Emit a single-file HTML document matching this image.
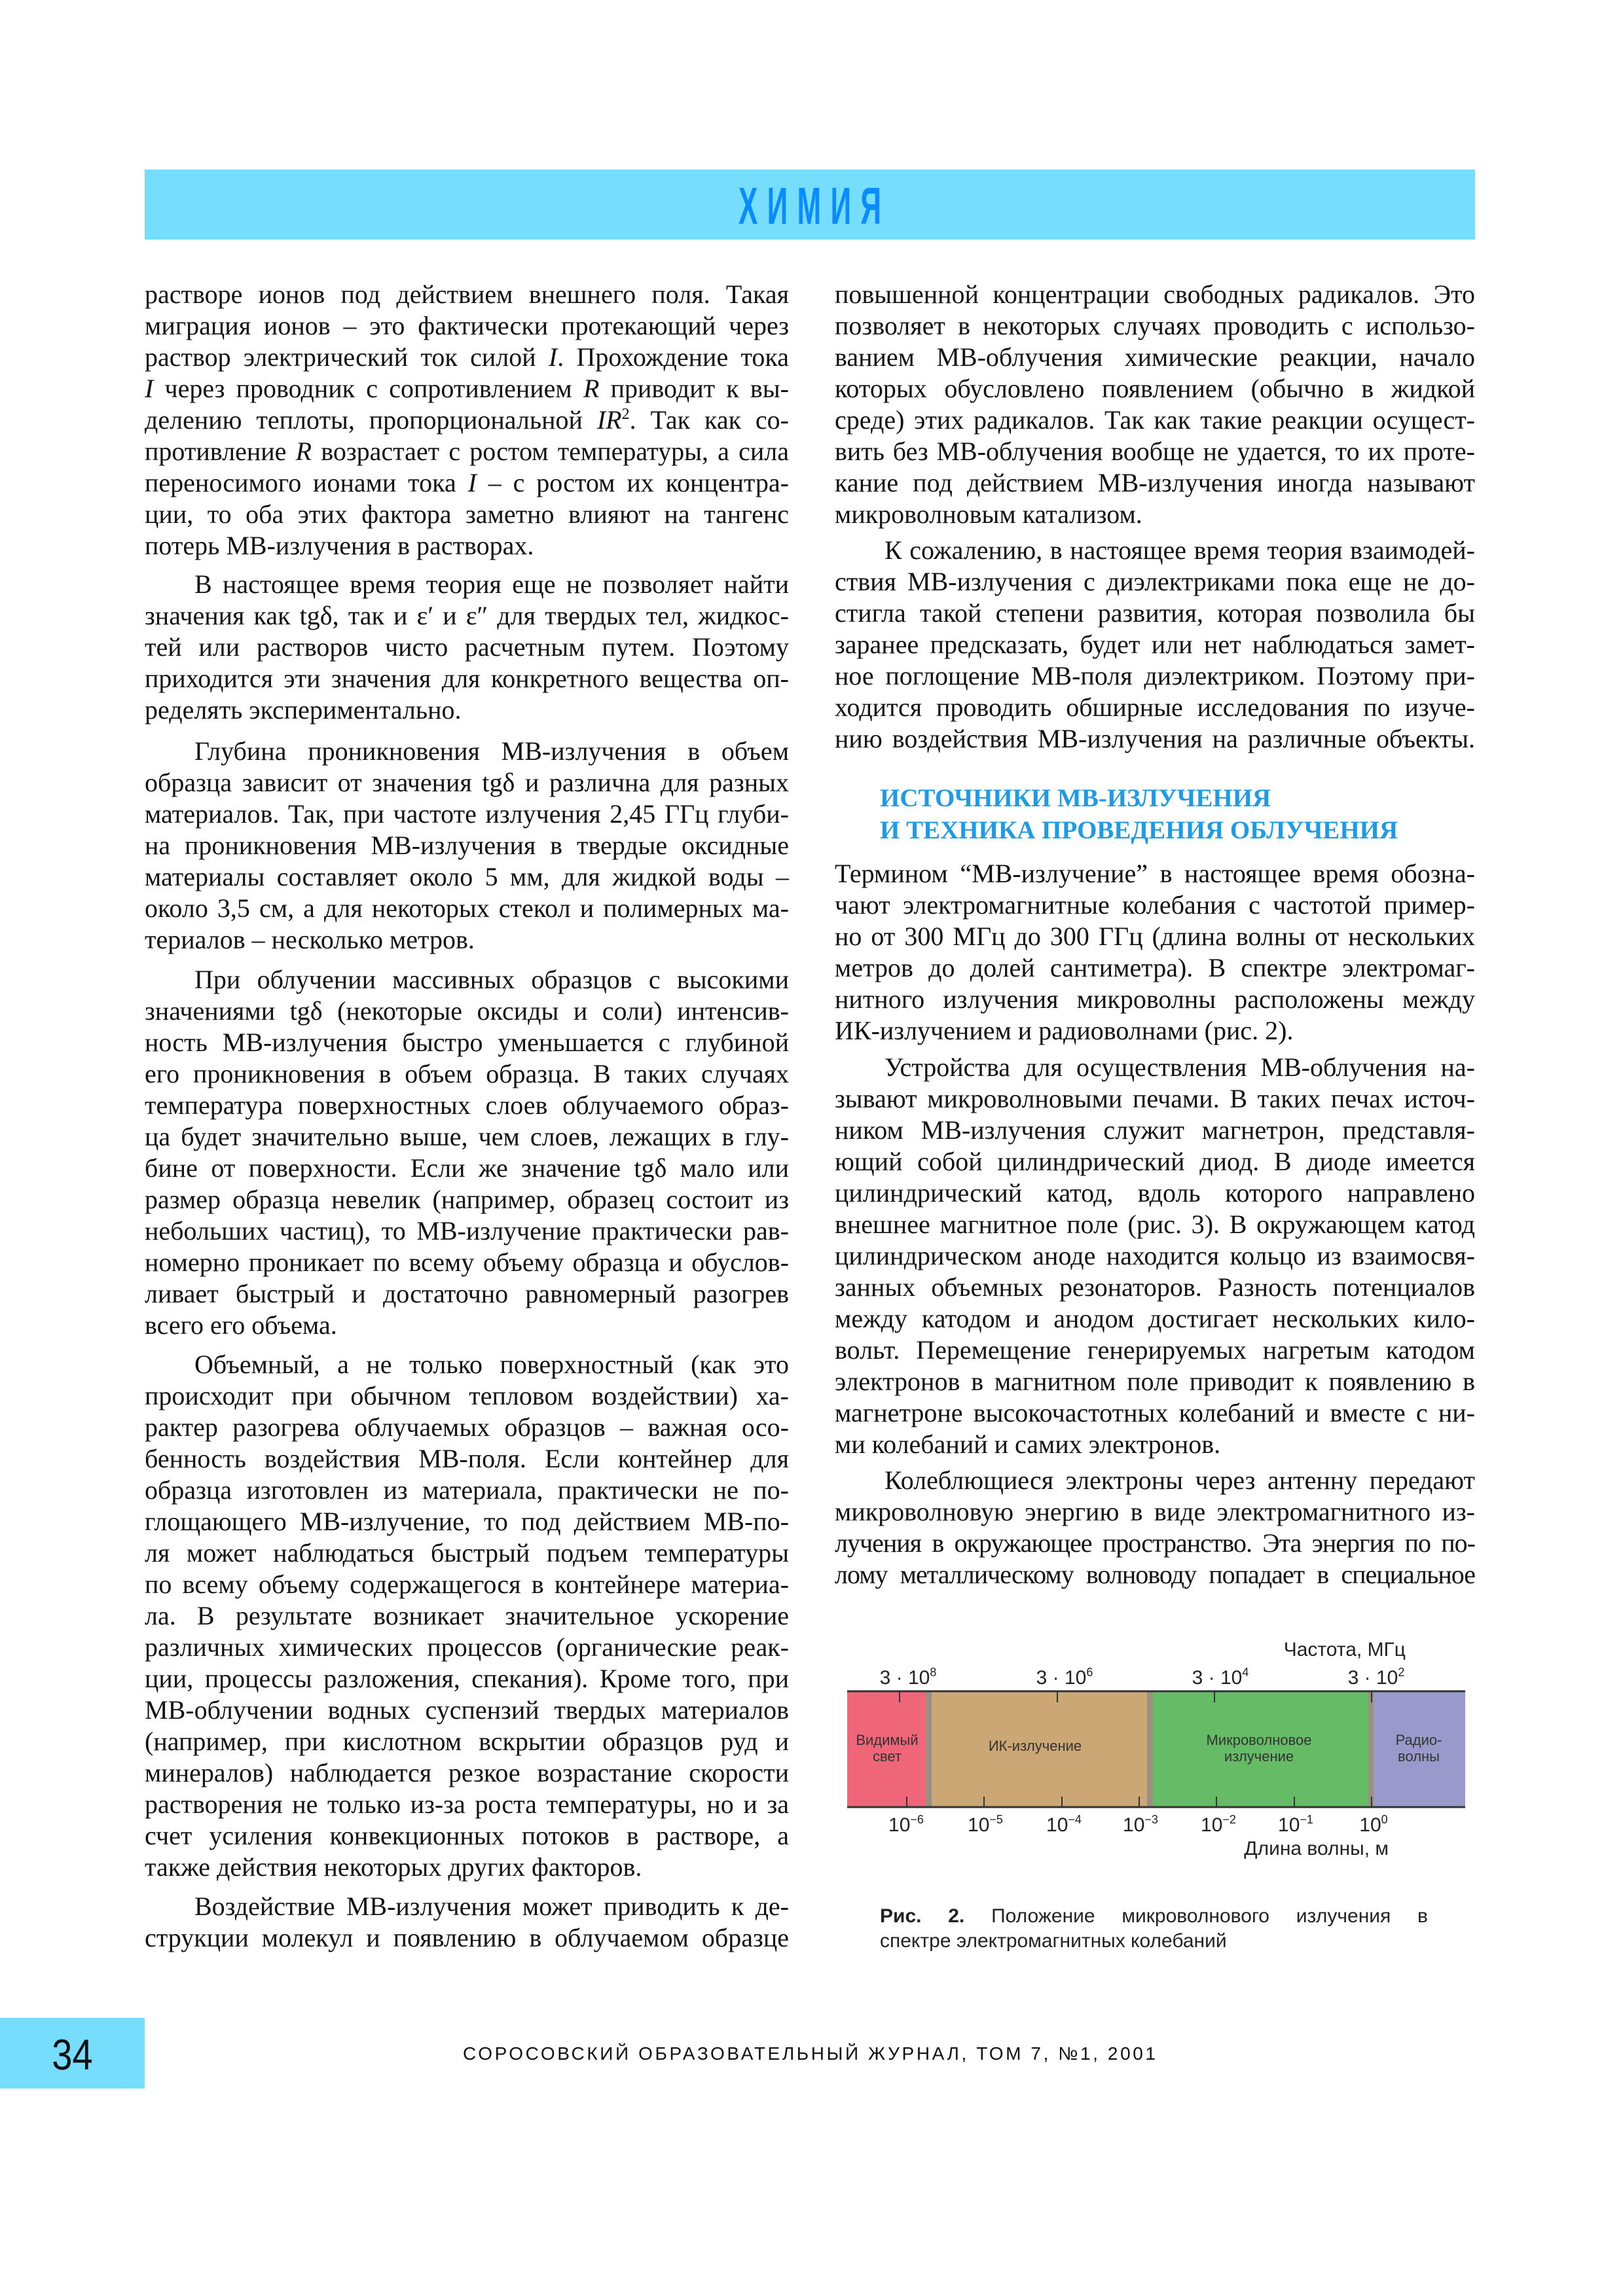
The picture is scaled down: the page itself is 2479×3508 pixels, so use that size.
<!DOCTYPE html>
<html><head><meta charset="utf-8">
<style>
html,body{margin:0;padding:0;background:#fff;}
body{width:2479px;height:3508px;position:relative;overflow:hidden;font-family:"Liberation Serif","DejaVu Serif",serif;color:#111;}
.col{position:absolute;font-size:40px;line-height:48px;}
.L{left:221px;width:984px;}
.R{left:1275px;width:978px;}
.col div{text-align:justify;text-align-last:justify;white-space:normal;height:48px;overflow:visible;}
.col div.e{text-align-last:left;}
.col div.i{padding-left:76px;}
.col div.t{letter-spacing:-1px;}
sup{font-size:24px;line-height:0;vertical-align:15px;}
.band{position:absolute;left:221px;top:259px;width:2032px;height:107px;background:#76ddfd;}
.band span{position:absolute;left:0;right:0;top:10px;text-align:center;font-family:"Liberation Sans",sans-serif;font-weight:bold;color:#0a8cff;font-size:80px;letter-spacing:26px;transform:scaleX(0.55);padding-left:26px;}
.hd{position:absolute;left:1344px;top:1195px;font-size:39px;line-height:49px;font-weight:bold;color:#1e9be6;}
.pg{position:absolute;left:0;top:3083px;width:221px;height:108px;background:#76ddfd;}
.pg span{position:absolute;left:0;width:221px;text-align:center;top:18px;font-family:"Liberation Sans",sans-serif;font-size:66px;transform:scaleX(0.85);}
.ft{position:absolute;left:707px;top:3122px;font-family:"Liberation Sans",sans-serif;font-size:28px;letter-spacing:3.6px;white-space:nowrap;}
.cap{position:absolute;left:1344px;top:2909px;width:837px;font-family:"Liberation Sans",sans-serif;font-size:30px;line-height:38px;color:#222;}
.cap div{text-align:justify;text-align-last:justify;}
.cap div.e{text-align-last:left;}
</style></head><body>

<div class="band"><span>ХИМИЯ</span></div>

<div class="col L" style="top:426px">
<div>растворе ионов под действием внешнего поля. Такая</div>
<div>миграция ионов – это фактически протекающий через</div>
<div>раствор электрический ток силой <i>I</i>. Прохождение тока</div>
<div><i>I</i> через проводник с сопротивлением <i>R</i> приводит к вы-</div>
<div>делению теплоты, пропорциональной <i>IR</i><sup>2</sup>. Так как со-</div>
<div>противление <i>R</i> возрастает с ростом температуры, а сила</div>
<div>переносимого ионами тока <i>I</i> – с ростом их концентра-</div>
<div>ции, то оба этих фактора заметно влияют на тангенс</div>
<div class="e">потерь МВ-излучения в растворах.</div>
</div>

<div class="col L" style="top:869px">
<div class="i">В настоящее время теория еще не позволяет найти</div>
<div>значения как tgδ, так и ε′ и ε″ для твердых тел, жидкос-</div>
<div>тей или растворов чисто расчетным путем. Поэтому</div>
<div>приходится эти значения для конкретного вещества оп-</div>
<div class="e">ределять экспериментально.</div>
</div>

<div class="col L" style="top:1124px">
<div class="i">Глубина проникновения МВ-излучения в объем</div>
<div>образца зависит от значения tgδ и различна для разных</div>
<div>материалов. Так, при частоте излучения 2,45 ГГц глуби-</div>
<div>на проникновения МВ-излучения в твердые оксидные</div>
<div>материалы составляет около 5 мм, для жидкой воды –</div>
<div>около 3,5 см, а для некоторых стекол и полимерных ма-</div>
<div class="e">териалов – несколько метров.</div>
</div>

<div class="col L" style="top:1473px">
<div class="i">При облучении массивных образцов с высокими</div>
<div>значениями tgδ (некоторые оксиды и соли) интенсив-</div>
<div>ность МВ-излучения быстро уменьшается с глубиной</div>
<div>его проникновения в объем образца. В таких случаях</div>
<div>температура поверхностных слоев облучаемого образ-</div>
<div>ца будет значительно выше, чем слоев, лежащих в глу-</div>
<div>бине от поверхности. Если же значение tgδ мало или</div>
<div>размер образца невелик (например, образец состоит из</div>
<div>небольших частиц), то МВ-излучение практически рав-</div>
<div>номерно проникает по всему объему образца и обуслов-</div>
<div>ливает быстрый и достаточно равномерный разогрев</div>
<div class="e">всего его объема.</div>
</div>

<div class="col L" style="top:2061px">
<div class="i">Объемный, а не только поверхностный (как это</div>
<div>происходит при обычном тепловом воздействии) ха-</div>
<div>рактер разогрева облучаемых образцов – важная осо-</div>
<div>бенность воздействия МВ-поля. Если контейнер для</div>
<div>образца изготовлен из материала, практически не по-</div>
<div>глощающего МВ-излучение, то под действием МВ-по-</div>
<div>ля может наблюдаться быстрый подъем температуры</div>
<div>по всему объему содержащегося в контейнере материа-</div>
<div>ла. В результате возникает значительное ускорение</div>
<div>различных химических процессов (органические реак-</div>
<div>ции, процессы разложения, спекания). Кроме того, при</div>
<div>МВ-облучении водных суспензий твердых материалов</div>
<div>(например, при кислотном вскрытии образцов руд и</div>
<div>минералов) наблюдается резкое возрастание скорости</div>
<div>растворения не только из-за роста температуры, но и за</div>
<div>счет усиления конвекционных потоков в растворе, а</div>
<div class="e">также действия некоторых других факторов.</div>
</div>

<div class="col L" style="top:2889px">
<div class="i">Воздействие МВ-излучения может приводить к де-</div>
<div>струкции молекул и появлению в облучаемом образце</div>
</div>

<div class="col R" style="top:426px">
<div>повышенной концентрации свободных радикалов. Это</div>
<div>позволяет в некоторых случаях проводить с использо-</div>
<div>ванием МВ-облучения химические реакции, начало</div>
<div>которых обусловлено появлением (обычно в жидкой</div>
<div>среде) этих радикалов. Так как такие реакции осущест-</div>
<div>вить без МВ-облучения вообще не удается, то их проте-</div>
<div>кание под действием МВ-излучения иногда называют</div>
<div class="e">микроволновым катализом.</div>
</div>

<div class="col R" style="top:817px">
<div class="i">К сожалению, в настоящее время теория взаимодей-</div>
<div>ствия МВ-излучения с диэлектриками пока еще не до-</div>
<div>стигла такой степени развития, которая позволила бы</div>
<div>заранее предсказать, будет или нет наблюдаться замет-</div>
<div>ное поглощение МВ-поля диэлектриком. Поэтому при-</div>
<div>ходится проводить обширные исследования по изуче-</div>
<div>нию воздействия МВ-излучения на различные объекты.</div>
</div>

<div class="hd">ИСТОЧНИКИ МВ-ИЗЛУЧЕНИЯ<br>И ТЕХНИКА ПРОВЕДЕНИЯ ОБЛУЧЕНИЯ</div>

<div class="col R" style="top:1311px">
<div>Термином “МВ-излучение” в настоящее время обозна-</div>
<div>чают электромагнитные колебания с частотой пример-</div>
<div>но от 300 МГц до 300 ГГц (длина волны от нескольких</div>
<div>метров до долей сантиметра). В спектре электромаг-</div>
<div>нитного излучения микроволны расположены между</div>
<div class="e">ИК-излучением и радиоволнами (рис. 2).</div>
</div>

<div class="col R" style="top:1607px">
<div class="i">Устройства для осуществления МВ-облучения на-</div>
<div>зывают микроволновыми печами. В таких печах источ-</div>
<div>ником МВ-излучения служит магнетрон, представля-</div>
<div>ющий собой цилиндрический диод. В диоде имеется</div>
<div>цилиндрический катод, вдоль которого направлено</div>
<div>внешнее магнитное поле (рис. 3). В окружающем катод</div>
<div>цилиндрическом аноде находится кольцо из взаимосвя-</div>
<div>занных объемных резонаторов. Разность потенциалов</div>
<div>между катодом и анодом достигает нескольких кило-</div>
<div>вольт. Перемещение генерируемых нагретым катодом</div>
<div>электронов в магнитном поле приводит к появлению в</div>
<div>магнетроне высокочастотных колебаний и вместе с ни-</div>
<div class="e">ми колебаний и самих электронов.</div>
</div>

<div class="col R" style="top:2238px">
<div class="i">Колеблющиеся электроны через антенну передают</div>
<div>микроволновую энергию в виде электромагнитного из-</div>
<div class="t">лучения в окружающее пространство. Эта энергия по по-</div>
<div class="t">лому металлическому волноводу попадает в специальное</div>
</div>

<svg style="position:absolute;left:0;top:0" width="2479" height="3508" xmlns="http://www.w3.org/2000/svg" font-family="Liberation Sans, sans-serif" fill="#222">
<rect x="1294" y="2584" width="120" height="177" fill="#ee6677"/>
<rect x="1414" y="2584" width="9" height="177" fill="#9a8f80"/>
<rect x="1423" y="2584" width="329" height="177" fill="#cba775"/>
<rect x="1752" y="2584" width="9" height="177" fill="#9a8f80"/>
<rect x="1761" y="2584" width="329" height="177" fill="#66bb66"/>
<rect x="2090" y="2584" width="8" height="177" fill="#9a8f80"/>
<rect x="2098" y="2584" width="140" height="177" fill="#9999cc"/>
<line x1="1294" y1="2584" x2="2238" y2="2584" stroke="#333" stroke-width="3"/>
<line x1="1294" y1="2761" x2="2238" y2="2761" stroke="#333" stroke-width="3"/>
<g stroke="#333" stroke-width="2">
<line x1="1374" y1="2584" x2="1374" y2="2601"/><line x1="1615" y1="2584" x2="1615" y2="2601"/>
<line x1="1855" y1="2584" x2="1855" y2="2601"/><line x1="2095" y1="2584" x2="2095" y2="2601"/>
<line x1="1385" y1="2745" x2="1385" y2="2761"/><line x1="1503" y1="2745" x2="1503" y2="2761"/>
<line x1="1622" y1="2745" x2="1622" y2="2761"/><line x1="1740" y1="2745" x2="1740" y2="2761"/>
<line x1="1858" y1="2745" x2="1858" y2="2761"/><line x1="1977" y1="2745" x2="1977" y2="2761"/>
<line x1="2095" y1="2745" x2="2095" y2="2761"/>
</g>
<text x="2147" y="2530" font-size="30" text-anchor="end">Частота, МГц</text>
<g font-size="30" text-anchor="middle">
<text x="1387" y="2573">3 · 10<tspan font-size="18" dy="-12">8</tspan></text>
<text x="1626" y="2573">3 · 10<tspan font-size="18" dy="-12">6</tspan></text>
<text x="1864" y="2573">3 · 10<tspan font-size="18" dy="-12">4</tspan></text>
<text x="2102" y="2573">3 · 10<tspan font-size="18" dy="-12">2</tspan></text>
<text x="1384" y="2798">10<tspan font-size="18" dy="-12">−6</tspan></text>
<text x="1505" y="2798">10<tspan font-size="18" dy="-12">−5</tspan></text>
<text x="1625" y="2798">10<tspan font-size="18" dy="-12">−4</tspan></text>
<text x="1742" y="2798">10<tspan font-size="18" dy="-12">−3</tspan></text>
<text x="1861" y="2798">10<tspan font-size="18" dy="-12">−2</tspan></text>
<text x="1979" y="2798">10<tspan font-size="18" dy="-12">−1</tspan></text>
<text x="2098" y="2798">10<tspan font-size="18" dy="-12">0</tspan></text>
</g>
<text x="2121" y="2834" font-size="30" text-anchor="end">Длина волны, м</text>
<g font-size="22" text-anchor="middle" fill="#333">
<text x="1355" y="2666">Видимый</text><text x="1355" y="2691">свет</text>
<text x="1581" y="2675">ИК-излучение</text>
<text x="1923" y="2666">Микроволновое</text><text x="1923" y="2691">излучение</text>
<text x="2167" y="2666">Радио-</text><text x="2167" y="2691">волны</text>
</g>
</svg>

<div class="cap">
<div><b style="white-space:nowrap">Рис.&nbsp;2.</b> Положение микроволнового излучения в</div>
<div class="e">спектре электромагнитных колебаний</div>
</div>

<div class="pg"><span>34</span></div>
<div class="ft">СОРОСОВСКИЙ ОБРАЗОВАТЕЛЬНЫЙ ЖУРНАЛ, ТОМ 7, №1, 2001</div>

</body></html>
